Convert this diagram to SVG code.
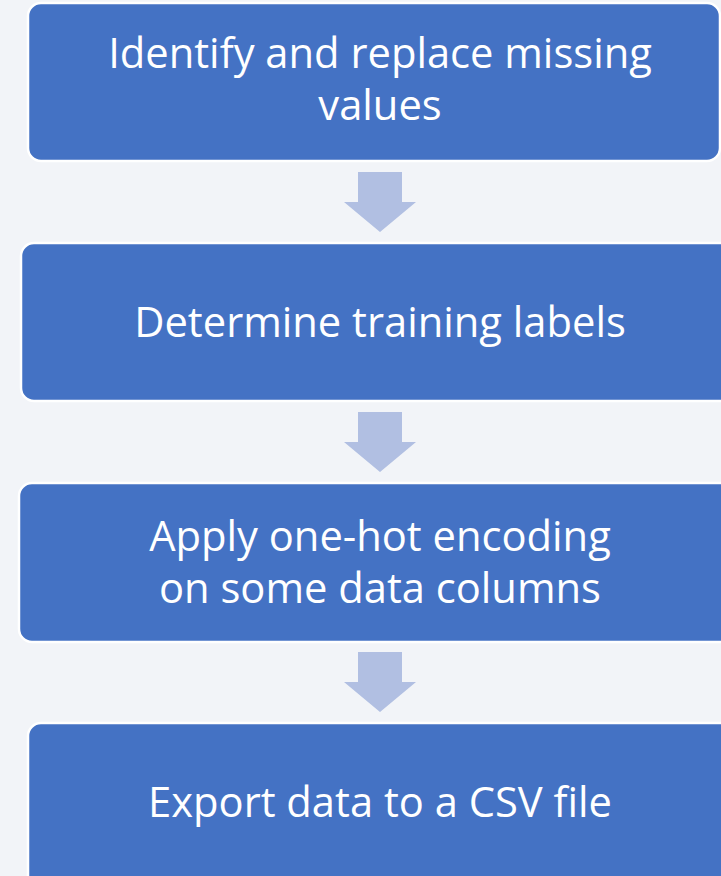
<svg xmlns="http://www.w3.org/2000/svg" width="721" height="876" viewBox="0 0 721 876">
<style>
.box{fill:#4472C4;stroke:#FFFFFF;stroke-width:2.5}
.lbl{fill:#FFFFFF;font-family:"Open Sans","Noto Sans","Liberation Sans",sans-serif;font-size:41.7px;text-anchor:middle}
.arr{fill:#B1BFE2}
</style>
<rect width="721" height="876" fill="#F2F4F8"/>
<g id="node1">
<rect class="box" x="28" y="3" width="692" height="158" rx="13"/>
<text class="lbl" x="380" y="68">Identify and replace missing</text>
<text class="lbl" x="380" y="120">values</text>
</g>
<g id="node2">
<rect class="box" x="21" y="243" width="730" height="158" rx="13"/>
<text class="lbl" x="380" y="337">Determine training labels</text>
</g>
<g id="node3">
<rect class="box" x="19" y="483" width="730" height="159" rx="13"/>
<text class="lbl" x="380" y="551">Apply one-hot encoding</text>
<text class="lbl" x="380" y="603">on some data columns</text>
</g>
<g id="node4">
<rect class="box" x="28" y="723" width="730" height="170" rx="13"/>
<text class="lbl" x="380" y="817">Export data to a CSV file</text>
</g>
<g id="connectors">
<polygon class="arr" points="358,172 402,172 402,202 416,202 380,232 344,202 358,202"/>
<polygon class="arr" points="358,412 402,412 402,442 416,442 380,472 344,442 358,442"/>
<polygon class="arr" points="358,652 402,652 402,682 416,682 380,712 344,682 358,682"/>
</g>
</svg>
